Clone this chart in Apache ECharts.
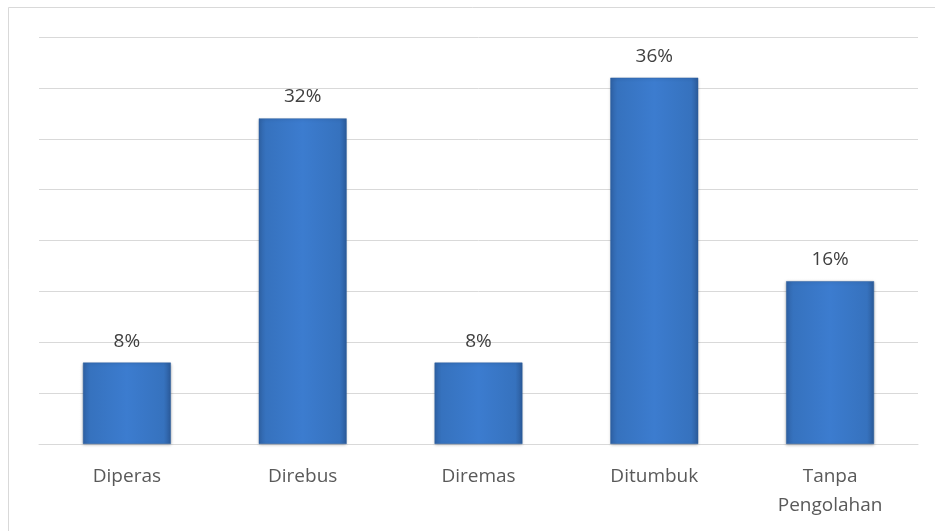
<!DOCTYPE html>
<html>
<head>
<meta charset="utf-8">
<script src="https://cdn.jsdelivr.net/npm/echarts@6/dist/echarts.min.js"></script>
<style>html,body{margin:0;padding:0;background:#fff}#c{width:935px;height:531px}</style>
</head>
<body>
<div id="c"></div>
<script>
var categories = ['Diperas', 'Direbus', 'Diremas', 'Ditumbuk', 'Tanpa\nPengolahan'];
var values = [8, 32, 8, 36, 16];
var yMin = 0, yMax = 40, yStep = 5;

var chart = echarts.init(document.getElementById('c'));
var barColor = new echarts.graphic.LinearGradient(0, 0, 1, 0, [
  {offset: 0, color: '#2f62a6'},
  {offset: 0.08, color: '#3672be'},
  {offset: 0.5, color: '#3c7ccf'},
  {offset: 0.92, color: '#3672be'},
  {offset: 1, color: '#2c5c9c'}
]);
chart.setOption({
  animation: false,
  graphic: [{
    type: 'rect', left: 8, top: 7, z: -1,
    shape: {width: 960, height: 560},
    style: {fill: '#fff', stroke: '#d9d9d9', lineWidth: 1}
  }],
  grid: {left: 39, right: 17, top: 37, bottom: 87, containLabel: false},
  xAxis: {
    type: 'category', data: categories,
    axisLine: {lineStyle: {color: '#d9d9d9', width: 1}},
    axisTick: {show: false},
    axisLabel: {color: '#595959', fontSize: 19, fontFamily: 'Open Sans', margin: 18, lineHeight: 29}
  },
  yAxis: {
    type: 'value', min: yMin, max: yMax, interval: yStep,
    axisLabel: {show: false}, axisLine: {show: false}, axisTick: {show: false},
    splitLine: {lineStyle: {color: '#d9d9d9', width: 1}}
  },
  series: [{
    type: 'bar', data: values, barWidth: '50%',
    itemStyle: {color: barColor, borderColor: '#2d5e9f', borderWidth: 0.5,
      shadowColor: 'rgba(0,0,0,0.25)', shadowBlur: 3, shadowOffsetY: 1},
    label: {show: true, position: 'top', distance: 12, formatter: '{c}%',
      color: '#404040', fontSize: 19, fontFamily: 'Open Sans'}
  }]
});
</script>
</body>
</html>
